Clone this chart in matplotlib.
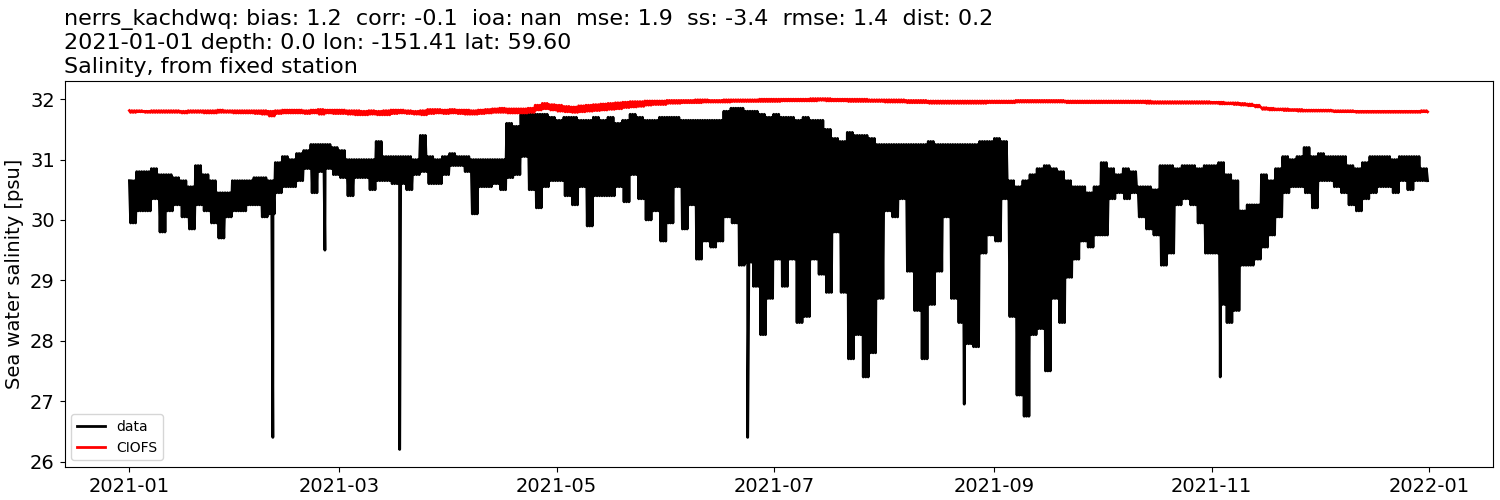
import matplotlib
matplotlib.use("Agg")
import matplotlib.pyplot as plt
import numpy as np


# station data, one list per month: tidal highs and lows read about every 2 days (psu)
data_hi = [
    [30.65, 30.8, 30.8, 30.85, 30.75, 30.75, 30.7, 30.65, 30.55, 30.9, 30.75, 30.65, 30.45, 30.45, 30.65],
    [30.65, 30.65, 30.7, 30.7, 30.65, 30.95, 31.05, 31.0, 31.1, 31.15, 31.25, 31.25, 31.25, 31.2],
    [31.15, 31.0, 31.0, 31.0, 31.0, 31.3, 31.05, 31.05, 31.05, 31.05, 31.0, 31.4, 31.05, 31.0, 31.05],
    [31.1, 31.05, 31.05, 31.0, 31.0, 31.0, 31.0, 31.0, 31.6, 31.55, 31.75, 31.75, 31.75, 31.75, 31.7],
    [31.65, 31.7, 31.7, 31.65, 31.65, 31.7, 31.65, 31.7, 31.6, 31.65, 31.75, 31.7, 31.65, 31.65, 31.7],
    [31.7, 31.7, 31.65, 31.65, 31.65, 31.65, 31.65, 31.65, 31.8, 31.85, 31.85, 31.8, 31.8, 31.75, 31.7],
    [31.75, 31.7, 31.7, 31.65, 31.7, 31.65, 31.65, 31.5, 31.35, 31.3, 31.45, 31.4, 31.4, 31.35, 31.25],
    [31.25, 31.25, 31.25, 31.25, 31.25, 31.25, 31.3, 31.25, 31.25, 31.25, 31.25, 31.25, 31.25, 31.3, 31.3],
    [31.35, 31.3, 30.65, 30.55, 30.65, 30.75, 30.85, 30.9, 30.85, 30.8, 30.65, 30.55, 30.55, 30.45, 30.55],
    [30.95, 30.85, 30.75, 30.85, 30.8, 30.55, 30.55, 30.5, 30.9, 30.9, 30.85, 30.9, 30.9, 30.85, 30.9],
    [30.9, 30.95, 30.75, 30.65, 30.15, 30.25, 30.25, 30.75, 30.65, 30.85, 31.05, 31.0, 31.05, 31.2, 31.05],
    [31.1, 31.05, 31.05, 31.05, 30.9, 30.85, 30.95, 31.05, 31.05, 31.05, 31.0, 31.05, 31.05, 31.05, 30.85],
]
data_lo = [
    [29.95, 30.15, 30.15, 30.35, 29.8, 30.15, 30.25, 30.05, 29.85, 30.25, 30.15, 29.95, 29.7, 30.05, 30.15],
    [30.15, 30.25, 30.25, 30.05, 30.1, 30.45, 30.55, 30.55, 30.65, 30.85, 30.45, 30.8, 30.85, 30.75],
    [30.7, 30.4, 30.7, 30.7, 30.5, 30.65, 30.65, 30.6, 30.6, 30.5, 30.75, 30.8, 30.6, 30.6, 30.75],
    [30.9, 30.9, 30.8, 30.1, 30.55, 30.55, 30.6, 30.5, 30.7, 30.75, 31.05, 30.5, 30.2, 30.55, 30.65],
    [30.65, 30.4, 30.25, 30.55, 29.9, 30.4, 30.4, 30.4, 30.55, 30.3, 30.75, 30.35, 30.0, 30.15, 29.65],
    [29.95, 30.55, 29.85, 30.25, 29.35, 29.65, 29.55, 29.65, 30.05, 29.95, 29.25, 29.3, 28.9, 28.1, 28.7],
    [29.35, 28.9, 29.35, 28.3, 28.4, 29.35, 29.1, 28.8, 29.8, 28.8, 27.7, 28.1, 27.4, 27.8, 28.7],
    [30.15, 30.05, 30.35, 29.15, 28.5, 27.7, 28.6, 29.15, 30.05, 28.7, 28.3, 27.95, 27.9, 29.45, 29.75],
    [29.65, 30.35, 28.4, 27.1, 26.75, 28.1, 28.2, 27.5, 28.7, 28.3, 29.05, 29.35, 29.65, 29.55, 29.75],
    [29.75, 30.35, 30.45, 30.35, 30.45, 30.05, 29.85, 29.75, 29.25, 29.45, 30.25, 30.35, 30.25, 29.95, 29.45],
    [29.45, 28.6, 28.3, 28.5, 29.25, 29.25, 29.35, 29.55, 29.75, 30.05, 30.45, 30.55, 30.55, 30.45, 30.2],
    [30.65, 30.65, 30.55, 30.45, 30.25, 30.15, 30.35, 30.45, 30.55, 30.55, 30.45, 30.65, 30.5, 30.65, 30.65],
]

# single sharp drops in the station record
spike_times = ["2021-02-10T07", "2021-02-24T22", "2021-03-17T22",
               "2021-06-23T16", "2021-08-23T12", "2021-11-03T10"]
spike_values = [26.4, 29.5, 26.2, 26.4, 26.95, 27.4]

# CIOFS model, same layout
model_hi = [
    [31.81, 31.81, 31.80, 31.81, 31.81, 31.81, 31.81, 31.80, 31.81, 31.81, 31.81, 31.81, 31.82, 31.81, 31.81],
    [31.81, 31.81, 31.81, 31.81, 31.80, 31.81, 31.82, 31.82, 31.82, 31.81, 31.82, 31.83, 31.82, 31.82],
    [31.82, 31.81, 31.81, 31.80, 31.81, 31.80, 31.81, 31.82, 31.82, 31.81, 31.80, 31.81, 31.83, 31.83, 31.82],
    [31.83, 31.82, 31.82, 31.81, 31.82, 31.83, 31.84, 31.85, 31.84, 31.84, 31.84, 31.85, 31.90, 31.93, 31.91],
    [31.90, 31.88, 31.87, 31.89, 31.90, 31.91, 31.92, 31.93, 31.94, 31.95, 31.96, 31.96, 31.97, 31.97, 31.97],
    [31.98, 31.98, 31.98, 31.98, 31.99, 31.99, 31.98, 31.98, 31.99, 31.99, 31.99, 31.99, 31.99, 32.00, 32.00],
    [32.00, 32.00, 32.00, 32.00, 32.00, 32.01, 32.01, 32.01, 32.00, 32.00, 32.00, 32.00, 32.00, 31.99, 31.99],
    [31.99, 31.99, 31.99, 31.98, 31.98, 31.98, 31.97, 31.97, 31.97, 31.97, 31.97, 31.97, 31.97, 31.97, 31.97],
    [31.97, 31.97, 31.97, 31.98, 31.98, 31.98, 31.98, 31.98, 31.98, 31.98, 31.97, 31.97, 31.97, 31.97, 31.97],
    [31.97, 31.97, 31.97, 31.97, 31.97, 31.97, 31.97, 31.96, 31.96, 31.96, 31.96, 31.96, 31.96, 31.96, 31.96],
    [31.95, 31.95, 31.94, 31.94, 31.93, 31.92, 31.90, 31.86, 31.85, 31.84, 31.84, 31.83, 31.83, 31.82, 31.82],
    [31.82, 31.82, 31.81, 31.81, 31.81, 31.80, 31.80, 31.80, 31.80, 31.80, 31.80, 31.80, 31.80, 31.80, 31.81],
]
model_lo = [
    [31.78, 31.79, 31.78, 31.78, 31.78, 31.78, 31.78, 31.77, 31.78, 31.78, 31.77, 31.77, 31.78, 31.78, 31.77],
    [31.77, 31.77, 31.76, 31.75, 31.72, 31.76, 31.77, 31.77, 31.77, 31.76, 31.77, 31.75, 31.77, 31.76],
    [31.76, 31.75, 31.74, 31.74, 31.75, 31.74, 31.74, 31.76, 31.77, 31.76, 31.75, 31.74, 31.76, 31.77, 31.76],
    [31.77, 31.76, 31.75, 31.75, 31.76, 31.77, 31.78, 31.78, 31.77, 31.77, 31.77, 31.78, 31.82, 31.84, 31.82],
    [31.80, 31.79, 31.78, 31.79, 31.80, 31.81, 31.82, 31.83, 31.84, 31.86, 31.87, 31.88, 31.90, 31.91, 31.91],
    [31.93, 31.93, 31.94, 31.94, 31.94, 31.95, 31.95, 31.95, 31.95, 31.96, 31.96, 31.96, 31.96, 31.96, 31.96],
    [31.96, 31.97, 31.97, 31.97, 31.97, 31.97, 31.98, 31.97, 31.97, 31.97, 31.96, 31.96, 31.96, 31.96, 31.96],
    [31.95, 31.95, 31.95, 31.94, 31.94, 31.94, 31.93, 31.93, 31.93, 31.93, 31.93, 31.93, 31.93, 31.93, 31.94],
    [31.94, 31.94, 31.94, 31.95, 31.95, 31.95, 31.95, 31.95, 31.95, 31.95, 31.94, 31.94, 31.94, 31.94, 31.94],
    [31.94, 31.94, 31.94, 31.94, 31.94, 31.94, 31.93, 31.93, 31.93, 31.93, 31.93, 31.93, 31.93, 31.93, 31.93],
    [31.93, 31.92, 31.92, 31.91, 31.90, 31.89, 31.87, 31.83, 31.82, 31.82, 31.81, 31.81, 31.80, 31.80, 31.80],
    [31.80, 31.80, 31.79, 31.79, 31.79, 31.78, 31.78, 31.78, 31.78, 31.78, 31.78, 31.78, 31.78, 31.78, 31.79],
]

YEAR = 2021
TIDES_PER_READING = 3  # tidal swings drawn inside each ~2 day high/low reading
TITLE = (
    "nerrs_kachdwq: bias: 1.2  corr: -0.1  ioa: nan  mse: 1.9  ss: -3.4  rmse: 1.4  dist: 0.2\n"
    "2021-01-01 depth: 0.0 lon: -151.41 lat: 59.60\n"
    "Salinity, from fixed station"
)


def build_series(highs, lows):
    # each month's high/low readings cover that month evenly; the tide swings
    # between the two read values a few times inside each reading
    times = []
    values = []
    for month, (hi, lo) in enumerate(zip(highs, lows)):
        start = np.datetime64(f"{YEAR}-{month + 1:02d}-01T00:00")
        end = (np.datetime64(f"{YEAR}-{month + 1:02d}") + np.timedelta64(1, "M")).astype("datetime64[m]")
        step = (end - start) / (len(hi) * TIDES_PER_READING)
        for i in range(len(hi)):
            for k in range(TIDES_PER_READING):
                t0 = start + step * (i * TIDES_PER_READING + k)
                times.append(t0)
                values.append(hi[i])
                times.append(t0 + step / 2)
                values.append(lo[i])
    return np.array(times, dtype="datetime64[m]"), np.array(values)


def add_spikes(times, values):
    all_t = np.concatenate([times, np.array(spike_times, dtype="datetime64[m]")])
    all_v = np.concatenate([values, np.array(spike_values)])
    order = np.argsort(all_t, kind="stable")
    return all_t[order], all_v[order]


def main():
    data_t, data_v = add_spikes(*build_series(data_hi, data_lo))
    model_t, model_v = build_series(model_hi, model_lo)

    fig = plt.figure(figsize=(15, 5), dpi=100)
    ax = fig.add_axes([0.043, 0.066, 0.952, 0.772])

    ax.plot(data_t, data_v, color="k", lw=2, label="data")
    ax.plot(model_t, model_v, color="r", lw=2, label="CIOFS")

    ax.set_title(TITLE, loc="left", fontsize=16)
    ax.set_ylabel("Sea water salinity [psu]", fontsize=14)
    ax.tick_params(axis="both", labelsize=14)
    ax.legend(loc="lower left")

    fig.savefig("out.png")
    plt.close(fig)


if __name__ == "__main__":
    main()
